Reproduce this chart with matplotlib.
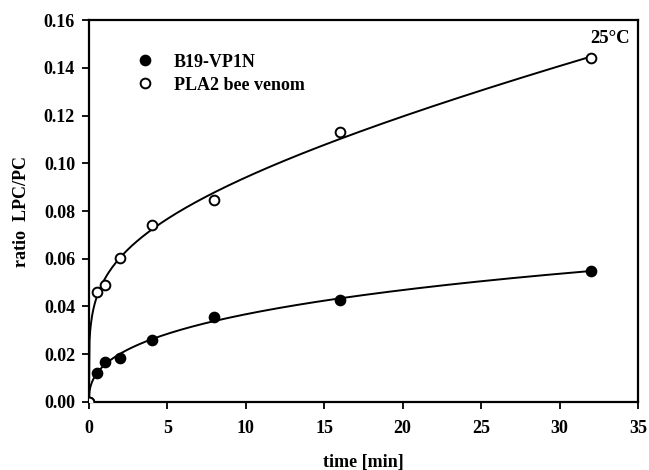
import numpy as np
import matplotlib
matplotlib.use("Agg")
import matplotlib.pyplot as plt

time_min = [0, 0.5, 1, 2, 4, 8, 16, 32]
b19_vp1n = [0.0, 0.012, 0.0165, 0.0185, 0.026, 0.0355, 0.0425, 0.055]
pla2_bee = [0.0, 0.046, 0.049, 0.0605, 0.074, 0.0845, 0.113, 0.144]
legend_labels = ["B19-VP1N", "PLA2 bee venom"]
x_ticks = [0, 5, 10, 15, 20, 25, 30, 35]
y_ticks = [0.00, 0.02, 0.04, 0.06, 0.08, 0.10, 0.12, 0.14, 0.16]

plt.rcParams['font.family'] = ['Liberation Serif', 'DejaVu Serif']
plt.rcParams['font.weight'] = 'bold'


def fit_curve(t, y):
    t = np.asarray(t, float)
    y = np.asarray(y, float)
    best = None
    for p in np.linspace(0.05, 0.95, 181):
        M = np.column_stack([t ** p, t])
        coef, *_ = np.linalg.lstsq(M, y, rcond=None)
        r = np.sum((M @ coef - y) ** 2)
        if best is None or r < best[0]:
            best = (r, p, coef)
    _, p, (A, B) = best
    tt = np.linspace(0, max(t), 800)
    return tt, A * tt ** p + B * tt


fig = plt.figure(figsize=(6.49, 4.70), dpi=100)
ax = fig.add_axes([0.137, 0.145, 0.846, 0.812])

for series, face, lab in [(b19_vp1n, 'black', legend_labels[0]),
                          (pla2_bee, 'white', legend_labels[1])]:
    tt, yy = fit_curve(time_min, series)
    ax.plot(tt, yy, color='black', lw=1.4, zorder=2)
    ax.plot(time_min, series, 'o', ms=7, mfc=face, mec='black', mew=1.4,
            ls='none', label=lab, zorder=3)

ax.set_xlim(0, 35)
ax.set_ylim(0, 0.16)
ax.set_xticks(x_ticks)
ax.set_yticks(y_ticks)
ax.set_xticklabels([str(v) for v in x_ticks], fontsize=13, fontweight='bold')
ax.set_yticklabels([f"{v:.2f}" for v in y_ticks], fontsize=13, fontweight='bold')
ax.tick_params(axis='both', direction='out', length=5, width=1.3, top=False, right=False)
ax.tick_params(axis='x', pad=8)
ax.tick_params(axis='y', pad=5)
for s in ax.spines.values():
    s.set_linewidth(1.6)

ax.set_xlabel("time [min]", fontsize=13, fontweight='bold', labelpad=12)
ax.set_ylabel("ratio  LPC/PC", fontsize=13, fontweight='bold', labelpad=10)

ax.text(33.2, 0.1525, "25°C", fontsize=13.5, fontweight='bold', ha='center', va='center')

ax.legend(loc='upper left', bbox_to_anchor=(0.069, 0.931), frameon=False,
          fontsize=13, handletextpad=1.0, labelspacing=0.32, borderaxespad=0,
          handlelength=1.2)

fig.savefig("out.png", dpi=100)
